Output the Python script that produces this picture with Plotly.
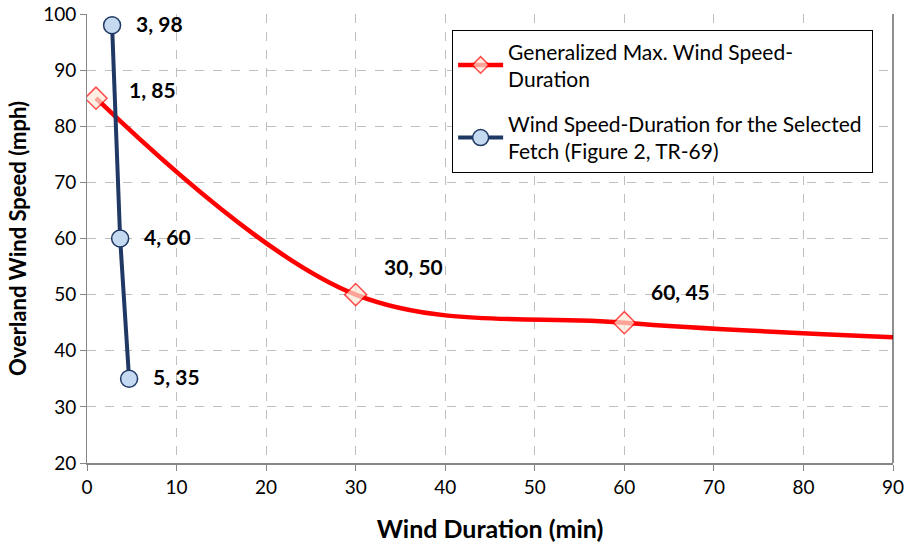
import plotly.graph_objects as go

# Data
red_x = [1, 30, 60, 90]
red_y = [85, 50, 45, 42.4]
red_marker_size = [17, 17, 17, 0]
red_labels = ["1, 85", "30, 50", "60, 45", ""]

blue_x = [2.8, 3.7, 4.7]
blue_y = [98, 60, 35]
blue_labels = ["3, 98", "4, 60", "5, 35"]

x_ticks = list(range(0, 91, 10))
y_ticks = list(range(20, 101, 10))

FONT = "Lato"

fig = go.Figure()

fig.add_trace(go.Scatter(
    x=red_x, y=red_y, mode="lines+markers", legendgroup="a",
    name="Generalized Max. Wind Speed-<br>Duration",
    line=dict(color="#ff0000", width=4.5, shape="spline", smoothing=1.0),
    marker=dict(symbol="diamond", size=red_marker_size, color="#fde9d9",
                line=dict(color="#ff0000", width=1.5)),
))

fig.add_trace(go.Scatter(
    x=blue_x, y=blue_y, mode="lines+markers", legendgroup="b",
    name="Wind Speed-Duration for the Selected&nbsp;<br>Fetch (Figure 2, TR-69)",
    line=dict(color="#1f3864", width=4),
    marker=dict(symbol="circle", size=17, color="#c5d9f1",
                line=dict(color="#1f3864", width=1.5)),
))

# data labels
red_offsets = [(31, 9), (26, 28), (25, 31)]
for (x, y, t), (dx, dy) in zip(zip(red_x, red_y, red_labels), red_offsets):
    if not t:
        continue
    fig.add_annotation(x=x, y=y, text=f"<b>{t}</b>", showarrow=False,
                       xanchor="left", yanchor="middle", xshift=dx, yshift=dy,
                       font=dict(family=FONT, size=21, color="black"))
for x, y, t in zip(blue_x, blue_y, blue_labels):
    fig.add_annotation(x=x, y=y, text=f"<b>{t}</b>", showarrow=False,
                       xanchor="left", yanchor="middle", xshift=22, yshift=2,
                       font=dict(family=FONT, size=21, color="black"))

fig.add_shape(type="line", xref="paper", yref="paper", x0=1, x1=1, y0=0, y1=1,
              line=dict(color="#202020", width=1))

fig.update_layout(
    width=907, height=546,
    margin=dict(l=87, r=14, t=14, b=83),
    paper_bgcolor="white", plot_bgcolor="white",
    font=dict(family=FONT, size=16, color="black"),
    showlegend=True,
    legend=dict(x=0.453, y=0.964, xanchor="left", yanchor="top",
                bgcolor="white", bordercolor="black", borderwidth=1,
                font=dict(family=FONT, size=21, color="black"),
                tracegroupgap=15, itemwidth=45),
    xaxis=dict(range=[0, 90], tickvals=x_ticks, ticks="outside", ticklen=6,
               tickcolor="#868686", showline=True, linecolor="#868686", linewidth=2,
               showgrid=True, gridcolor="#bfbfbf", griddash="dash", zeroline=False,
               automargin=False,
               tickfont=dict(family=FONT, size=19),
               title=dict(text="<b>Wind Duration (min)</b>", font=dict(family=FONT, size=25), standoff=24)),
    yaxis=dict(range=[20, 100], tickvals=y_ticks, ticks="outside", ticklen=6,
               tickcolor="#868686", showline=True, linecolor="#868686", linewidth=1,
               showgrid=True, gridcolor="#bfbfbf", griddash="dash", zeroline=False,
               automargin=False,
               tickfont=dict(family=FONT, size=19),
               title=dict(text="<b>Overland Wind Speed (mph)</b>", font=dict(family=FONT, size=22), standoff=10)),
)

fig.write_html("out.html")
